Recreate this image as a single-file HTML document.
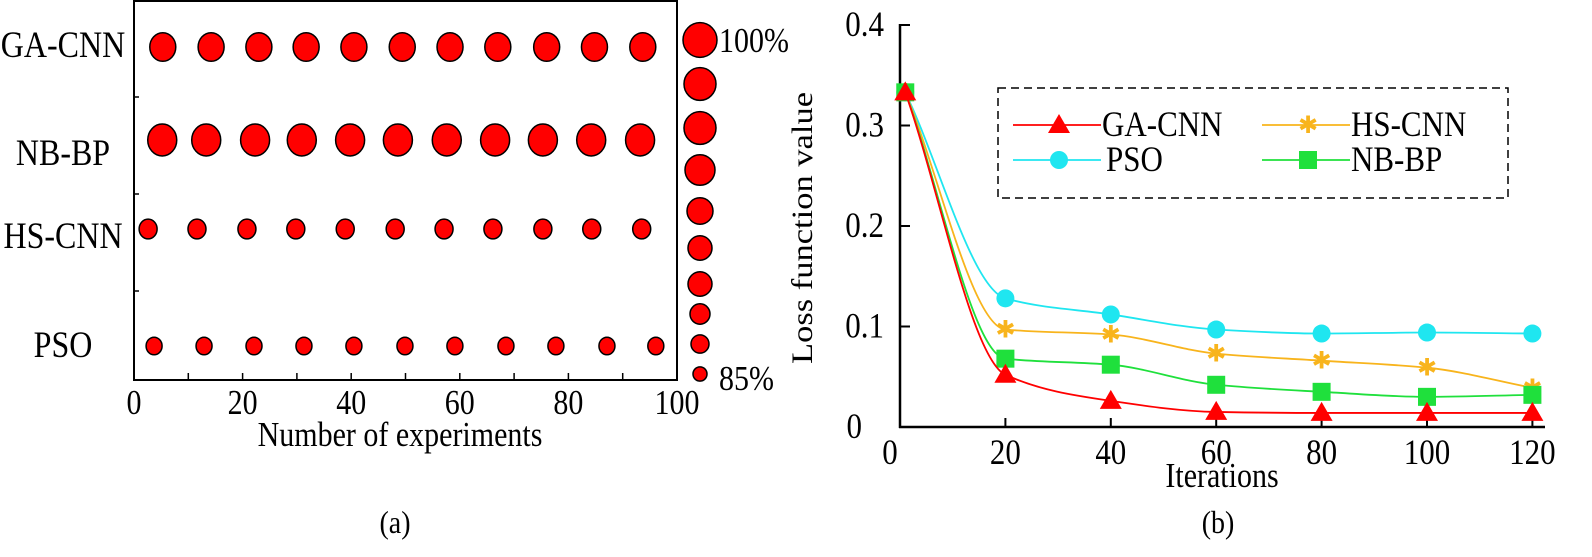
<!DOCTYPE html>
<html><head><meta charset="utf-8"><style>
body{margin:0;background:#fff}
svg text{font-family:"Liberation Serif",serif;fill:#000}
</style></head><body>
<svg id="c" width="1592" height="552" viewBox="0 0 1592 552" xmlns="http://www.w3.org/2000/svg"></svg>
<script>
// ---- chart (a) data ----
const aCategories=["GA-CNN","NB-BP","HS-CNN","PSO"];
const aRowY=[47,140,229,346];
const aRadius=[13,14.5,9,8];
const aGA=[5.3,14.2,23,31.7,40.5,49.4,58.2,67,76,84.8,93.7];
const aNB=[5.2,13.3,22.3,30.9,39.8,48.6,57.6,66.5,75.3,84.2,93.2];
const aHS=[2.6,11.6,20.8,29.8,38.9,48.1,57.1,66.1,75.3,84.3,93.5];
const aPSO=[3.7,12.9,22.1,31.3,40.5,49.9,59.1,68.5,77.7,87.1,96.1];
const aXTicks=[0,20,40,60,80,100];
const sizeLegendR=[17,16,16,15,13,12,12,10,9,7];
const sizeLegendY=[40,84,128,170,211,248,284,314,344,374];
// ---- chart (b) data ----
const bIter=[1,20,40,60,80,100,120];
const bGA=[0.333,0.052,0.026,0.015,0.014,0.014,0.014];
const bHS=[0.333,0.097,0.092,0.073,0.066,0.059,0.039];
const bPSO=[0.333,0.128,0.112,0.097,0.093,0.094,0.093];
const bNB=[0.333,0.068,0.062,0.042,0.035,0.030,0.032];
const bXTicks=[0,20,40,60,80,100,120];
const bYTicks=[0,0.1,0.2,0.3,0.4];

const svg=document.getElementById('c');
const NS='http://www.w3.org/2000/svg';
function mk(tag,attrs,parent){const e=document.createElementNS(NS,tag);for(const k in attrs)e.setAttribute(k,attrs[k]);(parent||svg).appendChild(e);return e;}
function txt(s,x,y,size,anchor,rot){
  const tr='translate('+x+','+y+')'+(rot?' rotate(-90) scale(1.15,1)':' scale(1,1.15)');
  const e=mk('text',{x:0,y:0,'font-size':size,'text-anchor':anchor||'start',transform:tr});
  e.textContent=s;return e;}

// ---- (a) ----
const ax=v=>134+v*5.43;
let e=mk('rect',{x:134,y:1,width:543,height:379,fill:'none',stroke:'#000','stroke-width':2});

aXTicks.forEach((t,i)=>{
  e=txt(String(t),ax(t),414,30,'middle');
  
});
for(let t=10;t<100;t+=10){e=mk('line',{x1:ax(t),x2:ax(t),y1:380,y2:373,stroke:'#000','stroke-width':1.5});
  }
[97,194,291].forEach(y=>{e=mk('line',{x1:134,x2:139,y1:y,y2:y,stroke:'#000','stroke-width':1.5});
  });
const labY=[57,165,248,357];
aCategories.forEach((c,i)=>{e=txt(c,63,labY[i],32,'middle');
  });
[aGA,aNB,aHS,aPSO].forEach((arr,i)=>{
  arr.forEach(v=>{e=mk('ellipse',{cx:ax(v),cy:aRowY[i],rx:aRadius[i],ry:aRadius[i]*1.1,fill:'#f00',stroke:'#000','stroke-width':1.5});
    });
});
sizeLegendR.forEach((r,i)=>{e=mk('ellipse',{cx:700,cy:sizeLegendY[i],rx:r,ry:r*1.02,fill:'#f00',stroke:'#000','stroke-width':1.5});
  });
e=txt('100%',719,52,30);
e=txt('85%',719,390,30);
e=txt('Number of experiments',400,446,30,'middle');
e=txt('(a)',395,533,28,'middle');

// ---- (b) ----
const bx=v=>900+v*5.27;
const by=v=>427-v*1005;
e=mk('line',{x1:900,x2:900,y1:24,y2:428,stroke:'#000','stroke-width':2.5});
e=mk('line',{x1:899,x2:1545,y1:427,y2:427,stroke:'#000','stroke-width':2.5});
bYTicks.forEach(t=>{
  e=mk('line',{x1:900,x2:910,y1:by(t),y2:by(t),stroke:'#000','stroke-width':2});
  e=txt(t===0?'0':t.toFixed(1),t===0?862:884,by(t)+11,31,'end');
});
bXTicks.forEach(t=>{
  e=mk('line',{x1:bx(t),x2:bx(t),y1:427,y2:418,stroke:'#000','stroke-width':2});
  e=txt(String(t),bx(t)-(t===0?10:0),464,31,'middle');
});
e=txt('Loss function value',812,228,30,'middle',true);
e=txt('Iterations',1222,487,30,'middle');
e=txt('(b)',1218,533,28,'middle');

function smooth(xs,ys){
  const p=xs.map((x,i)=>[bx(x),by(ys[i])]);
  const n=p.length,d=[],m=[];
  for(let i=0;i<n-1;i++)d.push((p[i+1][1]-p[i][1])/(p[i+1][0]-p[i][0]));
  for(let i=0;i<n;i++){
    if(i===0)m.push(d[0]);else if(i===n-1)m.push(d[n-2]);
    else m.push(d[i-1]*d[i]<=0?0:2/(1/d[i-1]+1/d[i]));
  }
  let s='M'+p[0][0]+','+p[0][1];
  for(let i=0;i<n-1;i++){
    const h=(p[i+1][0]-p[i][0])/3;
    s+=' C'+(p[i][0]+h)+','+(p[i][1]+m[i]*h)+' '+(p[i+1][0]-h)+','+(p[i+1][1]-m[i+1]*h)+' '+p[i+1][0]+','+p[i+1][1];
  }
  return s;
}
function marker(type,x,y,color,name){
  let m;
  if(type==='tri') m=mk('polygon',{points:`${x},${y-11} ${x-11},${y+8} ${x+11},${y+8}`,fill:color});
  else if(type==='circ') m=mk('circle',{cx:x,cy:y,r:9,fill:color});
  else if(type==='sq') m=mk('rect',{x:x-9,y:y-9,width:18,height:18,fill:color});
  else m=mk('text',{x:x,y:y+8,'font-size':24,'text-anchor':'middle',style:'fill:'+color+';font-family:DejaVu Sans'});
  if(type==='star') m.textContent='✱';
  
  
}
const series=[
  {n:'pso',v:bPSO,c:'#1fe6f0',m:'circ'},
  {n:'hs-cnn',v:bHS,c:'#f8b41c',m:'star'},
  {n:'nb-bp',v:bNB,c:'#1fe03c',m:'sq'},
  {n:'ga-cnn',v:bGA,c:'#f00',m:'tri'}];
series.forEach(s=>{
  e=mk('path',{d:smooth(bIter,s.v),fill:'none',stroke:s.c,'stroke-width':1.8});
  
  bIter.forEach((x,i)=>marker(s.m,bx(x),by(s.v[i]),s.c,'point-'+s.n));
});
// legend
e=mk('rect',{x:998,y:88,width:510,height:110,fill:'none',stroke:'#000','stroke-width':1.5,'stroke-dasharray':'8,5'});

const leg=[['GA-CNN','#f00','tri',1013,125],['HS-CNN','#f8b41c','star',1262,125],['PSO','#1fe6f0','circ',1013,160],['NB-BP','#1fe03c','sq',1262,160]];
leg.forEach(l=>{
  e=mk('line',{x1:l[3],x2:l[3]+88,y1:l[4],y2:l[4],stroke:l[1],'stroke-width':1.8});
  marker(l[2],l[3]+46,l[4],l[1],'legend-marker');
  e=txt(l[0],l[3]+(l[0]==='PSO'?93:89),l[4]+11,31);
});
</script>
</body></html>
